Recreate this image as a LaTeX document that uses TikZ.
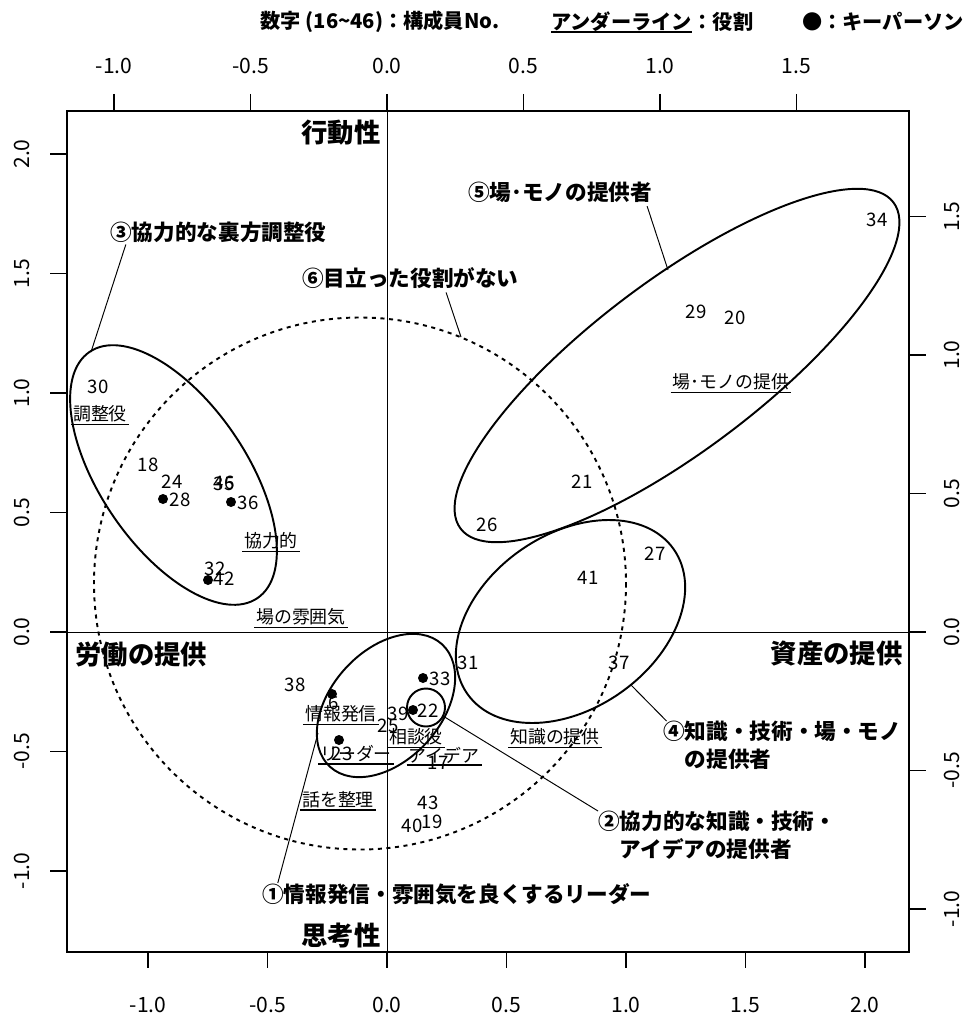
\documentclass[tikz,border=0pt]{standalone}
\usepackage{fontspec}
\setmainfont{Noto Sans CJK JP}[BoldFont={Noto Sans CJK JP Black}]
\usetikzlibrary{positioning}

\begin{document}
\begin{tikzpicture}[x=0.02cm,y=-0.02cm]
	  \tikzstyle{num}=[inner sep=0pt,font=\fontsize{10.6}{12}\selectfont]
	  \tikzstyle{role}=[inner sep=1pt,font=\fontsize{10.2}{12}\selectfont,
	    append after command={(\tikzlastnode.south west) edge[line width=1pt] (\tikzlastnode.south east)}]
	  \tikzstyle{keyman}=[circle,fill=black,inner sep=0pt,minimum size=0.2cm]
	  \tikzstyle{group}=[line width=1.1pt]
	  \tikzstyle{callout}=[inner sep=0pt,align=left,font=\fontsize{12.3}{15.9}\selectfont\bfseries]
	  \tikzstyle{pole}=[inner sep=0pt,font=\fontsize{15}{18}\selectfont\bfseries]
	  \tikzstyle{legend}=[inner sep=0pt,font=\fontsize{11.5}{14}\selectfont\bfseries]
	  \tikzstyle{ticklabel}=[inner sep=0pt,font=\fontsize{12}{14}\selectfont]
	  \tikzstyle{leader}=[line width=0.55pt]

	  \useasboundingbox (0,0) rectangle (967,1017);

	  % frame, axes and ticks
	  \draw[line width=0.55pt] (387,111) -- (387,952);
	  \draw[line width=0.55pt] (67,632) -- (909,632);
	  \draw[line width=1.2pt] (67,111) rectangle (909,952);
	  \foreach \v in {-1.0,-0.5,0.0,0.5,1.0,1.5,2.0} {
	    \draw[line width=0.7pt] (387+239*\v,952) -- (387+239*\v,968);
	    \node[ticklabel] at (387+239*\v,1005) {\v};
	    \draw[line width=0.7pt] (50,632-239*\v) -- (67,632-239*\v);
	    \node[ticklabel,rotate=90] at (22,632-239*\v) {\v};
	  }
	  \foreach \v in {-1.0,-0.5,0.0,0.5,1.0,1.5} {
	    \draw[line width=0.7pt] (387+273*\v,94) -- (387+273*\v,111);
	    \node[ticklabel] at (387+273*\v,66) {\v};
	    \draw[line width=0.7pt] (909,632-277*\v) -- (926,632-277*\v);
	    \node[ticklabel,rotate=90] at (952,632-277*\v) {\v};
	  }

	  % legend
	  \node[legend] (lg1) at (380,22) {数字 (16\textasciitilde46)：構成員No.};
	  \node[legend,anchor=west,
	    append after command={(\tikzlastnode.south west) edge[line width=1.2pt] (\tikzlastnode.south east)}] (lg2) at (551,22) {アンダーライン};
	  \node[legend,right=0pt of lg2] (lg3) {：役割};
	  \node[legend,anchor=east] (lg4) at (964,22) {●：キーパーソン};

	  % poles
	  \node[pole] (act) at (341,133) {行動性};
	  \node[pole] (think) at (341,935) {思考性};
	  \node[pole,anchor=west] (labor) at (75,655) {労働の提供};
	  \node[pole,anchor=east] (asset) at (903,654) {資産の提供};

	  % groups
	  \draw[group,rotate around={-55.7:(173.5,475)}] (173.5,475) ellipse [x radius=149,y radius=73];
	  \draw[group,rotate around={37:(677,365.5)}] (677,365.5) ellipse [x radius=271,y radius=85];
	  \draw[group,rotate around={35:(570.5,621.5)}] (570.5,621.5) ellipse [x radius=126,y radius=87];
	  \draw[group,rotate around={47.6:(386,705.5)}] (386,705.5) ellipse [x radius=83,y radius=55];
	  \draw[group] (426,707.5) circle [radius=19];
	  \draw[line width=1.1pt,dash pattern=on 2.3pt off 2.6pt] (360,583.5) circle [radius=266];

	  % roles
	  \node[role] (r1) at (100,414) {調整役};
	  \node[role] (r2) at (271,541) {協力的};
	  \node[role] (r3) at (301,617) {場の雰囲気};
	  \node[role] (r4) at (731,382) {場･モノの提供};
	  \node[role] (r5) at (555,737) {知識の提供};
	  \node[role] (r6) at (341,714) {情報発信};
	  \node[role] (r7) at (416,737) {相談役};
	  \node[role] (r8) at (356,754) {リーダー};
	  \node[role] (r9) at (444,755) {アイデア};
	  \node[role] (r10) at (338,800) {話を整理};

	  % members
	  \foreach \n/\x/\y in {30/98/387,18/148/465,24/172/482,46/224/483,35/224/484,
	      28/180/500,36/248/503,32/215/569,42/224/579,34/877/220,29/696/312,
	      20/735/318,21/582/482,26/487/525,27/655/554,41/588/578,31/468/663,
	      37/619/663,33/440/679,22/428/711,39/398/714,38/295/685,6/334/703,
	      25/388/726,23/342/754,17/438/763,43/428/803,40/412/826,19/432/822}
	    \node[num] (m\n) at (\x,\y) {\n};

	  % key persons
	  \node[keyman] (k28) at (163,499) {};
	  \node[keyman] (k36) at (231,502) {};
	  \node[keyman] (k42) at (208,580) {};
	  \node[keyman] (k33) at (423,678) {};
	  \node[keyman] (k22) at (413,710) {};
	  \node[keyman] (k6) at (332,694) {};
	  \node[keyman] (k23) at (339,740) {};

	  % callouts
	  \node[callout,anchor=west] (g3) at (110,232) {③協力的な裏方調整役};
	  \node[callout,anchor=west] (g6) at (302,278) {⑥目立った役割がない};
	  \node[callout,anchor=west] (g5) at (468,192) {⑤場･モノの提供者};
	  \node[callout,anchor=north west] (g4) at (663,721) {④知識・技術・場・モノ\\\phantom{④}の提供者};
	  \node[callout,anchor=north west] (g2) at (598,811) {②協力的な知識・技術・\\\phantom{②}アイデアの提供者};
	  \node[callout,anchor=west] (g1) at (262,894) {①情報発信・雰囲気を良くするリーダー};

	  \coordinate (e3) at (91,352);
	  \coordinate (e6) at (461,337);
	  \coordinate (e5) at (668,270);
	  \coordinate (e4) at (631,685);
	  \coordinate (e2) at (443,716);
	  \coordinate (e1) at (318,733);

	  \draw[leader] ([xshift=9pt,yshift=-1pt]g3.south west) -- (e3);
	  \draw[leader] ([xshift=82pt,yshift=-2pt]g6.south west) -- (e6);
	  \draw[leader] ([xshift=-3pt,yshift=-2pt]g5.south east) -- (e5);
	  \draw[leader] (e4) -- ([xshift=2pt]g4.north west);
	  \draw[leader] (e2) -- (g2.north west);
	  \draw[leader] (e1) -- ([xshift=9pt]g1.north west);
	\end{tikzpicture}
\end{document}
